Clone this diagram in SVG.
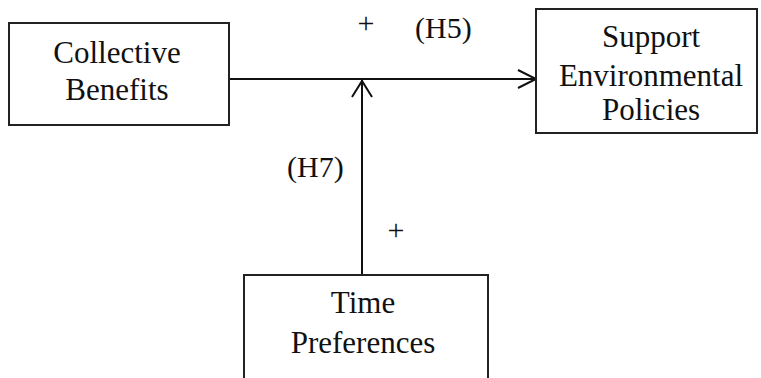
<svg xmlns="http://www.w3.org/2000/svg" width="761" height="378" viewBox="0 0 761 378">
<style>
.box{fill:#fff;stroke:#222;stroke-width:2}
.t{font-family:"Liberation Serif","Times New Roman",serif;font-size:31px;fill:#111;text-anchor:middle}
.l{font-family:"Liberation Serif","Times New Roman",serif;font-size:30px;fill:#111}
.c{fill:none;stroke:#111;stroke-width:2}
</style>
<rect width="761" height="378" fill="#fff"/>
<g id="connectors">
<line class="c" x1="229" y1="79" x2="536" y2="79"/>
<polyline class="c" points="518,70 536,79 518,88"/>
<line class="c" x1="362" y1="275" x2="362" y2="80"/>
<polyline class="c" points="352,97 362,81 372,97"/>
</g>
<g id="collective-benefits">
<rect class="box" x="9" y="23" width="220" height="102"/>
<text class="t" x="117" y="63">Collective</text>
<text class="t" x="117" y="100">Benefits</text>
</g>
<g id="support-environmental-policies">
<rect class="box" x="536" y="9" width="221" height="124"/>
<text class="t" x="651" y="47">Support</text>
<text class="t" x="651" y="86">Environmental</text>
<text class="t" x="651" y="120">Policies</text>
</g>
<g id="time-preferences">
<rect class="box" x="244" y="275" width="244" height="110"/>
<text class="t" x="363" y="313">Time</text>
<text class="t" x="363" y="353">Preferences</text>
</g>
<g id="labels">
<text class="l" x="366" y="33" text-anchor="middle">+</text>
<text class="l" x="415" y="38">(H5)</text>
<text class="l" x="287" y="177">(H7)</text>
<text class="l" x="396" y="240" text-anchor="middle">+</text>
</g>
</svg>
